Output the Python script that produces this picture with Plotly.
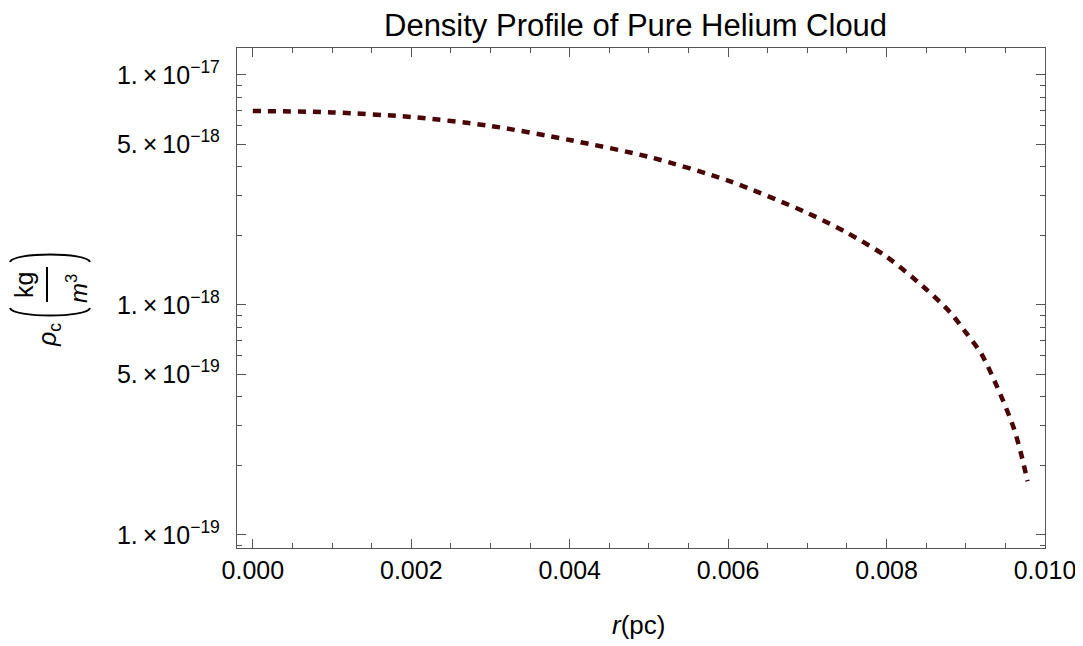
import plotly.graph_objects as go

# density profile (r in pc, rho in kg/m^3)
r_pc = [0.0, 0.001, 0.002, 0.003, 0.004, 0.005, 0.006, 0.007, 0.0075,
        0.008, 0.0085, 0.0088, 0.009, 0.0092, 0.0094, 0.0096, 0.0097, 0.00978]
rho = [6.97e-18, 6.87e-18, 6.56e-18, 6.0e-18, 5.21e-18, 4.40e-18, 3.47e-18,
       2.51e-18, 2.06e-18, 1.62e-18, 1.17e-18, 9.3e-19, 7.6e-19, 6.1e-19,
       4.37e-19, 2.95e-19, 2.24e-19, 1.71e-19]

y_major = [1e-19, 5e-19, 1e-18, 5e-18, 1e-17]
y_labels = ["1.\u2009\u00d7\u200910<sup>\u221219</sup>", "5.\u2009\u00d7\u200910<sup>\u221219</sup>",
            "1.\u2009\u00d7\u200910<sup>\u221218</sup>", "5.\u2009\u00d7\u200910<sup>\u221218</sup>",
            "1.\u2009\u00d7\u200910<sup>\u221217</sup>"]
x_major = [0.0, 0.002, 0.004, 0.006, 0.008, 0.010]
x_labels = ["0.000", "0.002", "0.004", "0.006", "0.008", "0.010"]

title = "Density Profile of Pure Helium Cloud"

W, H = 1083, 646
OFF = 8  # page body margin shifts the figure by this much
L, R, T, B = 237 - OFF, 1045 - OFF, 48 - OFF, 548 - OFF
FONT = "Liberation Sans, Arial, sans-serif"
LINE_COL = "#4a0404"
AXIS_COL = "#555555"


def px(x, y):
    # reference pixel position -> paper coords
    x, y = x - OFF, y - OFF
    return (x - L) / (R - L), (B - y) / (B - T)


y_minor = [m * 10.0 ** e for e in (-20, -19, -18, -17) for m in range(2, 10)]
y_minor = [v for v in y_minor if v not in y_major]
x_minor = [i * 0.0005 for i in range(0, 21)]

fig = go.Figure()
fig.add_trace(go.Scatter(
    x=r_pc, y=rho, mode="lines",
    line=dict(color=LINE_COL, width=4.5, dash="8px,7px", shape="spline", smoothing=0.8),
    showlegend=False, hoverinfo="skip",
))

fig.update_xaxes(
    range=[-0.0002, 0.0100], showgrid=False, zeroline=False,
    showline=True, linecolor=AXIS_COL, linewidth=1.3, mirror="allticks",
    tickmode="array", tickvals=x_major, ticktext=x_labels,
    ticks="inside", ticklen=9, tickwidth=1, tickcolor=AXIS_COL,
    ticklabelstandoff=0,
    tickfont=dict(family=FONT, size=25, color="black"),
    minor=dict(tickmode="array", tickvals=x_minor, ticks="inside", ticklen=5,
               tickwidth=1, tickcolor=AXIS_COL, showgrid=False),
)
fig.update_yaxes(
    type="log", range=[-19.057, -16.883], showgrid=False, zeroline=False,
    showline=True, linecolor=AXIS_COL, linewidth=1.3, mirror="allticks",
    tickmode="array", tickvals=y_major, ticktext=y_labels,
    ticks="inside", ticklen=9, tickwidth=1, tickcolor=AXIS_COL,
    ticklabelstandoff=11,
    tickfont=dict(family=FONT, size=25, color="black"),
    minor=dict(tickmode="array", tickvals=y_minor, ticks="inside", ticklen=5,
               tickwidth=1, tickcolor=AXIS_COL, showgrid=False),
)

anns = []
# title
tx, ty = px(635, 26)
anns.append(dict(text=title, x=tx, y=ty, font=dict(family=FONT, size=31, color="black")))
# x axis label
tx, ty = px(638, 625)
anns.append(dict(text="<i>r</i>(pc)", x=tx, y=ty, font=dict(family=FONT, size=26, color="black")))
# y axis label pieces, rotated
for txt, cx, cy, sz in [("<i>\u03c1</i><sub>c</sub>", 49, 335, 25),
                        ("kg", 24, 285, 25),
                        ("<i>m</i><sup>3</sup>", 77, 289, 24)]:
    ax_, ay_ = px(cx, cy)
    anns.append(dict(text=txt, x=ax_, y=ay_, textangle=-90,
                     font=dict(family=FONT, size=sz, color="black")))
for a in anns:
    a.update(xref="paper", yref="paper", showarrow=False, xanchor="center", yanchor="middle")


def path(points):
    (x0, y0), (x1, y1), (x2, y2), (x3, y3) = [px(a, b) for a, b in points]
    return f"M {x0},{y0} C {x1},{y1} {x2},{y2} {x3},{y3}"


shapes = [
    dict(type="path", path=path([(10, 308), (13, 318), (87, 318), (90, 308)])),
    dict(type="path", path=path([(10, 262), (13, 252), (87, 252), (90, 262)])),
]
bx0, by0 = px(47, 267)
bx1, by1 = px(47, 302)
shapes.append(dict(type="line", x0=bx0, y0=by0, x1=bx1, y1=by1))
for s in shapes:
    s.update(xref="paper", yref="paper", line=dict(color="black", width=2))

fig.update_layout(
    width=W, height=H,
    margin=dict(l=L, r=W - R, t=T, b=H - B, pad=0),
    plot_bgcolor="white", paper_bgcolor="white",
    annotations=anns, shapes=shapes,
    font=dict(family=FONT),
)

fig.write_html("out.html")
